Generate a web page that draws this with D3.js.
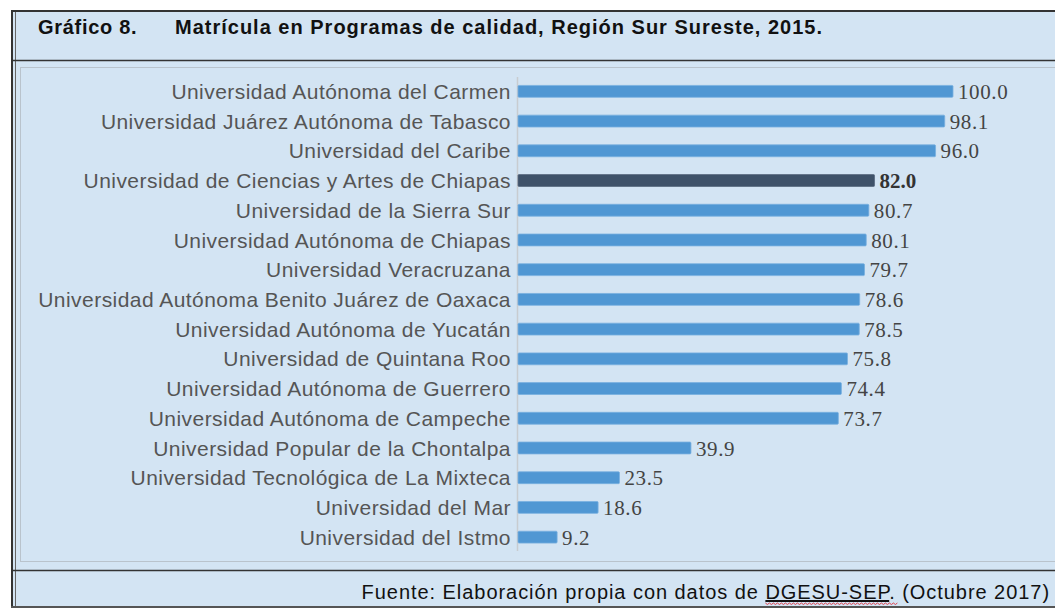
<!DOCTYPE html>
<html><head><meta charset="utf-8">
<script src="https://cdn.jsdelivr.net/npm/d3@7"></script>
<style>body{margin:0;background:#fff;}svg{display:block;}</style>
</head><body>
<svg id="c" width="1055" height="608"></svg>
<script>
const categories = [
 "Universidad Autónoma del Carmen","Universidad Juárez Autónoma de Tabasco","Universidad del Caribe",
 "Universidad de Ciencias y Artes de Chiapas","Universidad de la Sierra Sur","Universidad Autónoma de Chiapas",
 "Universidad Veracruzana","Universidad Autónoma Benito Juárez de Oaxaca","Universidad Autónoma de Yucatán",
 "Universidad de Quintana Roo","Universidad Autónoma de Guerrero","Universidad Autónoma de Campeche",
 "Universidad Popular de la Chontalpa","Universidad Tecnológica de La Mixteca","Universidad del Mar","Universidad del Istmo"];
const values = [100.0,98.1,96.0,82.0,80.7,80.1,79.7,78.6,78.5,75.8,74.4,73.7,39.9,23.5,18.6,9.2];
const highlight = ["Universidad de Ciencias y Artes de Chiapas"];
const titleLeft = "Gráfico 8.";
const titleRight = "Matrícula en Programas de calidad, Región Sur Sureste, 2015.";
const sourceA = "Fuente: Elaboración propia con datos de ";
const sourceB = "DGESU-SEP";
const sourceC = ". (Octubre 2017)";

const sans = "Liberation Sans, Arial, Helvetica, sans-serif";
const svg = d3.select("#c");
svg.append("rect").attr("x",11).attr("y",10).attr("width",1050).attr("height",597).attr("fill","#d3e4f3");
svg.append("line").attr("x1",11).attr("x2",1055).attr("y1",11).attr("y2",11).attr("stroke","#333").attr("stroke-width",2);
svg.append("line").attr("x1",12).attr("x2",12).attr("y1",10).attr("y2",608).attr("stroke","#333").attr("stroke-width",2);
svg.append("line").attr("x1",15.5).attr("x2",15.5).attr("y1",12).attr("y2",608).attr("stroke","#666").attr("stroke-width",1);
svg.append("line").attr("x1",11).attr("x2",1055).attr("y1",60.5).attr("y2",60.5).attr("stroke","#333").attr("stroke-width",1.3);
svg.append("line").attr("x1",11).attr("x2",1055).attr("y1",570.5).attr("y2",570.5).attr("stroke","#333").attr("stroke-width",1.3);
svg.append("line").attr("x1",11).attr("x2",1055).attr("y1",607).attr("y2",607).attr("stroke","#555").attr("stroke-width",2);
svg.append("rect").attr("x",20.5).attr("y",67.5).attr("width",1040).attr("height",494).attr("fill","none").attr("stroke","#b9c3cc").attr("stroke-width",1);

svg.append("text").attr("x",38).attr("y",34).attr("font-family",sans).attr("font-weight","bold").attr("font-size",20).attr("letter-spacing",0.7).attr("fill","#111").text(titleLeft);
svg.append("text").attr("x",175).attr("y",34).attr("font-family",sans).attr("font-weight","bold").attr("font-size",20).attr("letter-spacing",1.0).attr("fill","#111").text(titleRight);
const src = svg.append("text").attr("x",1050).attr("y",599).attr("text-anchor","end").attr("font-family",sans).attr("font-size",20).attr("letter-spacing",0.95).attr("fill","#111");
src.append("tspan").text(sourceA);
src.append("tspan").attr("text-decoration","underline").text(sourceB);
src.append("tspan").text(sourceC);
// spell-check style wavy mark under the acronym
(function(){
  const n = src.node();
  const i0 = sourceA.length, i1 = sourceA.length + sourceB.length + 1;
  const a = n.getExtentOfChar(i0), b = n.getExtentOfChar(i1-1);
  const x0 = a.x, x1 = b.x + b.width, yy = 603;
  let d = `M${x0},${yy}`;
  for (let xx = x0, k = 0; xx < x1; xx += 2, k++) d += `L${xx+2},${yy + (k%2?0:1.5)}`;
  svg.append("path").attr("d",d).attr("fill","none").attr("stroke","#e0303a").attr("stroke-width",0.9);
})();

const x = d3.scaleLinear().domain([0,100]).range([517,953]);
const y = d3.scaleBand().domain(categories).range([76.5,552]).paddingInner(0.6).paddingOuter(0.3);

svg.append("line").attr("x1",517.5).attr("x2",517.5).attr("y1",77).attr("y2",551).attr("stroke","#c8ccd0").attr("stroke-width",1.5);

const g = svg.append("g");
categories.forEach((c,i)=>{
  const hl = highlight.includes(c);
  g.append("rect").attr("x",x(0)+1).attr("y",y(c)).attr("width",x(values[i])-x(0)-1).attr("height",y.bandwidth())
   .attr("fill",hl?"#3f5269":"#5097d3").attr("stroke",hl?"#5b6b80":"#79b0e0").attr("stroke-width",0.8).attr("rx",1);
  g.append("text").attr("x",511).attr("y",y(c)+y.bandwidth()/2).attr("dy","0.36em").attr("text-anchor","end")
   .attr("font-family",sans).attr("font-size",21).attr("letter-spacing",0.45).attr("fill","#555").text(c);
  g.append("text").attr("x",x(values[i])+5).attr("y",y(c)+y.bandwidth()/2).attr("dy","0.36em")
   .attr("font-family","Liberation Serif, Times New Roman, serif").attr("font-size",21).attr("letter-spacing",hl?0:0.6).attr("font-weight",hl?"bold":"normal")
   .attr("fill",hl?"#333":"#444").text(values[i].toFixed(1));
});
</script>
</body></html>
